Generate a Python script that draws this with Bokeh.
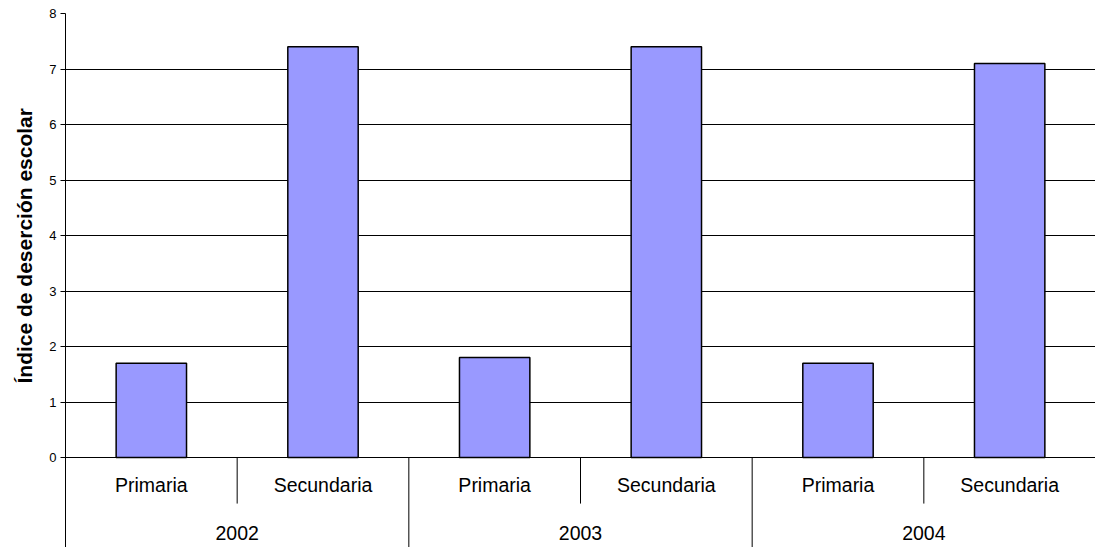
from bokeh.core.properties import value
from bokeh.embed import file_html
from bokeh.models import FixedTicker, Range1d, Title
from bokeh.plotting import figure
from bokeh.resources import INLINE

# --- data -------------------------------------------------------------
years = ["2002", "2003", "2004"]
levels = ["Primaria", "Secundaria"]
primaria = [1.7, 1.8, 1.7]
secundaria = [7.4, 7.4, 7.1]
y_ticks = [0, 1, 2, 3, 4, 5, 6, 7, 8]
y_title = "Índice de deserción escolar"

FONT = "Liberation Sans"
n_levels = len(levels)
n_cats = len(years) * n_levels
series = [primaria, secundaria]

# one slot per (year, level); slot centres sit at half-integers
bar_x, bar_top, bar_label = [], [], []
for gi, year in enumerate(years):
    for li, lvl in enumerate(levels):
        bar_x.append(gi * n_levels + li + 0.5)
        bar_top.append(series[li][gi])
        bar_label.append(lvl)

year_x = [gi * n_levels + n_levels / 2 for gi in range(len(years))]

# the frame reaches below zero so the category table fits under the bars
y_bottom = -1.6216
sub_row = -0.83          # lower edge of the level row
level_y = -0.5
year_y = -1.36

p = figure(
    width=1095, height=547,
    x_range=Range1d(0, n_cats), y_range=Range1d(y_bottom, max(y_ticks)),
    x_axis_type=None,
    output_backend="svg", toolbar_location=None,
    min_border_left=65, min_border_right=0,
    min_border_top=13, min_border_bottom=0,
)
p.outline_line_color = None
p.background_fill_color = "white"
p.border_fill_color = "white"

ticker = FixedTicker(ticks=y_ticks)
p.yaxis.ticker = ticker
p.yaxis.axis_line_color = "black"
p.yaxis.axis_line_width = 1
p.yaxis.major_tick_line_color = "black"
p.yaxis.major_tick_out = 5
p.yaxis.major_tick_in = 0
p.yaxis.minor_tick_line_color = None
p.yaxis.major_label_text_font = FONT
p.yaxis.major_label_text_font_size = "13px"
p.yaxis.major_label_text_color = "black"
p.yaxis.major_label_standoff = 4

p.ygrid.ticker = ticker
p.ygrid.grid_line_color = "black"
p.ygrid.grid_line_alpha = 1.0
p.ygrid.grid_line_width = 1

# bars
p.vbar(x=bar_x, top=bar_top, bottom=0, width=0.41,
       fill_color="#9999FF", line_color="black", line_width=1.5)

# category table under the axis
sep_x0, sep_y0, sep_y1 = [], [], []
for gi in range(len(years)):
    for li in range(1, n_levels):
        sep_x0.append(gi * n_levels + li)
        sep_y0.append(0)
        sep_y1.append(sub_row)
    if gi > 0:
        sep_x0.append(gi * n_levels)
        sep_y0.append(0)
        sep_y1.append(y_bottom - 1)
p.segment(x0=sep_x0, y0=sep_y0, x1=sep_x0, y1=sep_y1,
          line_color="black", line_width=1)

p.text(x=bar_x, y=[level_y] * len(bar_x), text=bar_label,
       text_align="center", text_baseline="middle",
       text_font=value(FONT), text_font_size="19.5px", text_color="black")
p.text(x=year_x, y=[year_y] * len(year_x), text=years,
       text_align="center", text_baseline="middle",
       text_font=value(FONT), text_font_size="19.5px", text_color="black")

# value-axis title, set beside the 0..8 scale rather than the whole frame
p.add_layout(Title(
    text=y_title, align="left", vertical_align="bottom",
    offset=164, standoff=21,
    text_font=FONT, text_font_size="21px", text_font_style="bold",
    text_color="black",
), "left")

open("out.html", "w").write(file_html(p, INLINE))
